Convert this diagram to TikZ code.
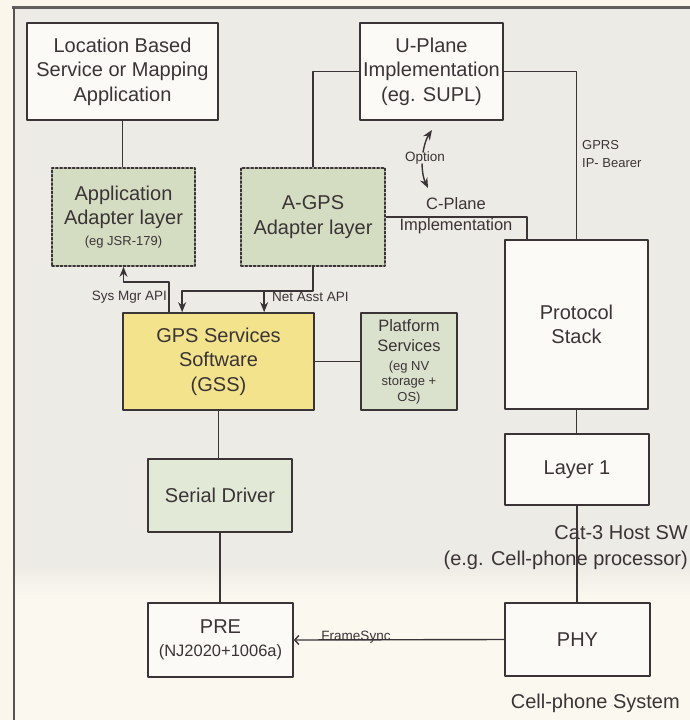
\documentclass[tikz,border=0pt]{standalone}
\usepackage{fontspec}
\setmainfont{Liberation Sans}
\usetikzlibrary{arrows.meta}
\definecolor{ink}{HTML}{3B3436}
\definecolor{paper}{HTML}{FBF6EC}
\definecolor{hostbg}{HTML}{EDEBE5}
\definecolor{phonebg}{HTML}{FBF9EF}
\definecolor{boxwhite}{HTML}{FCFAF6}
\definecolor{adgreen}{HTML}{D4DDC2}
\definecolor{gssyellow}{HTML}{F2E38C}
\definecolor{platgreen}{HTML}{DAE2CD}
\definecolor{drvgreen}{HTML}{E2E9D7}
\newcommand{\smalltxt}{\fontsize{13}{16}\selectfont}
\begin{document}
\begin{tikzpicture}[x=1pt, y=-1pt, >={Stealth[length=10pt,width=8pt]}, line join=round,
    box/.style={draw=ink, line width=1.7pt, fill=boxwhite, text=ink, align=center, inner sep=0pt,
      font=\fontsize{20}{24.5}\selectfont},
    adapter/.style={box, fill=adgreen, line cap=round, dash pattern=on 2.2pt off 2pt},
    wire/.style={draw=ink, line width=1.4pt},
    note/.style={text=ink, inner sep=0pt, align=center, font=\fontsize{13.5}{17}\selectfont},
    big/.style={text=ink, inner sep=0pt, font=\fontsize{20}{24}\selectfont}]
  % background and frame
  \useasboundingbox (0,0) rectangle (690,720);
  \fill[paper] (-10,-10) rectangle (700,730);
  \fill[hostbg] (14,7) rectangle (700,565);
  \shade[top color=hostbg, bottom color=phonebg] (14,565) rectangle (700,600);
  \fill[phonebg] (14,600) rectangle (700,730);
  \draw[line width=2.2pt, draw=ink!80] (12,7.5) -- (700,7.5);
  \draw[line width=1.5pt, draw=ink!85] (14,7.5) -- (14,730);

  % blocks
  \node[box, minimum width=191pt, minimum height=97pt] (lbs) at (122.5,71.5) {Location Based\\Service or Mapping\\Application};
  \node[box, minimum width=143pt, minimum height=97pt] (uplane) at (431.5,71.5) {U-Plane\\Implementation\\(eg. SUPL)};
  \node[adapter, minimum width=143pt, minimum height=98pt] (appad) at (123.5,217) {Application\\Adapter layer\\[-4pt]\smalltxt (eg JSR-179)};
  \node[adapter, minimum width=144pt, minimum height=98pt] (agpsad) at (313,217) {A-GPS\\Adapter layer};
  \node[box, minimum width=143pt, minimum height=169pt] (proto) at (576.5,324.5) {Protocol\\Stack};
  \node[box, fill=gssyellow, minimum width=191pt, minimum height=97pt] (gss) at (218.5,361.5) {GPS Services\\Software\\(GSS)};
  \node[box, fill=platgreen, minimum width=96pt, minimum height=97pt, font=\fontsize{16.5}{20.5}\selectfont] (platf) at (409,361.5)
    {Platform\\Services\\[-2pt]\smalltxt (eg NV\\[-5pt]\smalltxt storage +\\[-5pt]\smalltxt OS)};
  \node[box, minimum width=144pt, minimum height=71pt] (layer1) at (577,469.5) {Layer 1};
  \node[box, fill=drvgreen, minimum width=144pt, minimum height=73pt] (serial) at (220,495.5) {Serial Driver};
  \node[box, minimum width=145pt, minimum height=74pt] (pre) at (220.5,640) {PRE\\[-2pt]\fontsize{16.5}{20}\selectfont (NJ2020+1006a)};
  \node[box, minimum width=145pt, minimum height=73pt] (phy) at (577.5,639.5) {PHY};

  % connectors
  \draw[wire] (lbs.south) -- (lbs.south |- appad.north);
  \draw[wire] (agpsad.north) |- (uplane.west);
  \draw[wire] (uplane.east) -| (proto.north);
  \draw[wire] (agpsad.east) -| ([xshift=23pt]proto.north west);
  \draw[wire, ->] ([xshift=47pt]gss.north west) -- ++(0,-30) -| (appad.south);
  \draw[wire, ->] (agpsad.south) -- ++(0,24) coordinate (nbend) -| ([xshift=60pt]gss.north west);
  \draw[wire, ->] ([xshift=142pt]gss.north west |- nbend) -- ([xshift=142pt]gss.north west);
  \draw[wire] (gss.east) -- (platf.west);
  \draw[wire] (gss.south) -- (gss.south |- serial.north);
  \draw[wire] (serial.south) -- (serial.south |- pre.north);
  \draw[wire] (proto.south) -- (proto.south |- layer1.north);
  \draw[wire] (layer1.south) -- (layer1.south |- phy.north);
  \draw[wire, -{Straight Barb[length=4pt,width=9pt]}] (phy.west) -- (pre.east);

  % option arrows
  \node[note] (option) at (425,158) {Option};
  \coordinate (optup) at (432,130);
  \coordinate (optdn) at (428,188);
  \draw[wire, ->] ([xshift=-2pt,yshift=-1pt]option.north) to[bend left=12] (optup);
  \draw[wire, ->] ([xshift=-3pt,yshift=1pt]option.south) to[bend right=12] (optdn);

  % labels
  \node[note, font=\fontsize{16.5}{21}\selectfont] (cplane) at (456,216) {C-Plane\\Implementation};
  \node[note, font=\fontsize{13}{18.5}\selectfont, align=left, anchor=west] (gprs) at (582,154) {GPRS\\IP- Bearer};
  \node[note, anchor=east] (sysapi) at (167,297) {Sys Mgr API};
  \node[note, anchor=west] (netapi) at (272,297) {Net Asst API};
  \node[note] (fsync) at (356,637) {FrameSync};
  \node[big, anchor=east] (hostsw) at (688,533) {Cat-3 Host SW};
  \node[big, anchor=east] (hostcpu) at (688,560) {(e.g. Cell-phone processor)};
  \node[big, anchor=east] (cellsys) at (680,703) {Cell-phone System};
\end{tikzpicture}
\end{document}
